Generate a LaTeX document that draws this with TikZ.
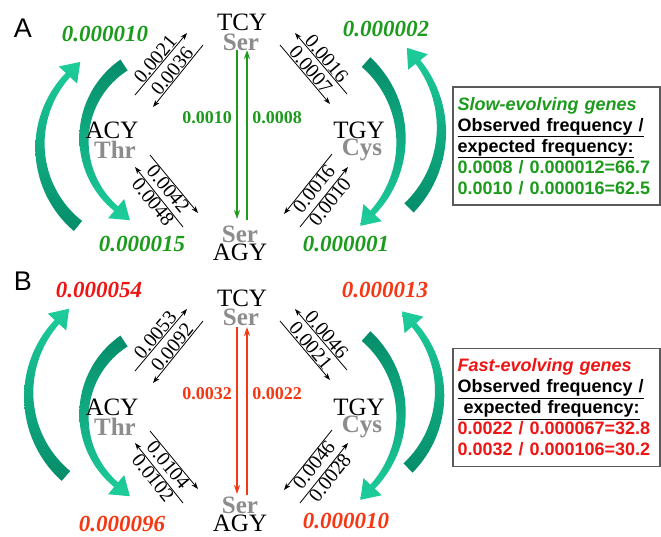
\documentclass[tikz,border=0pt]{standalone}
\usepackage{fontspec}
\setmainfont{Liberation Serif}
\newfontfamily\arialf{Liberation Sans}
\usetikzlibrary{arrows.meta,calc}
\definecolor{gtext}{RGB}{28,155,28}
\definecolor{rtext}{RGB}{240,20,20}
\definecolor{otext}{RGB}{245,55,20}
\definecolor{aagray}{RGB}{140,140,140}
\definecolor{tealD}{RGB}{5,140,105}
\definecolor{tealL}{RGB}{30,205,155}
\definecolor{boxgray}{RGB}{90,90,90}
% #1 cx, #2 cy, #3 R, #4 tail angle, #5 neck angle, #6 +90/-90, #7 shading
\newcommand{\curvarr}[7]{%
  \pgfmathsetmacro{\ca}{#4}\pgfmathsetmacro{\cb}{#5}\pgfmathsetmacro{\cspan}{#5-(#4)}%
  \shade[#7] plot[domain=\ca:\cb, samples=40]
      ({#1+(#3+6.5-3.5*(\x-(\ca))/\cspan)*cos(\x)},{#2+(#3+6.5-3.5*(\x-(\ca))/\cspan)*sin(\x)})
    -- ($(#1,#2)+({\cb}:{#3+12.5})$) -- ($(#1,#2)+({\cb}:{#3})+({\cb+(#6)}:18)$)
    -- ($(#1,#2)+({\cb}:{#3-12.5})$)
    -- plot[domain=\cb:\ca, samples=40]
      ({#1+(#3-6.5+3.5*(\x-(\ca))/\cspan)*cos(\x)},{#2+(#3-6.5+3.5*(\x-(\ca))/\cspan)*sin(\x)})
    -- cycle;}
\tikzset{
 codon/.style={font=\fontsize{25}{25}\selectfont, inner sep=0pt},
 aa/.style={font=\fontsize{25}{25}\selectfont\bfseries, text=aagray, inner sep=0pt},
 freq/.style={font=\fontsize{23}{23}\selectfont\bfseries\itshape, inner sep=0pt},
 rate/.style={font=\fontsize{20}{20}\selectfont, inner sep=0.4pt, sloped},
 vrate/.style={font=\fontsize{18}{18}\selectfont\bfseries, inner sep=0pt},
 darr/.style={line width=0.8pt, -{Stealth[length=7pt,width=5pt]}},
 varr/.style={line width=1.5pt, -{Stealth[length=9pt,width=6pt]}},
 panel/.style={font=\arialf\fontsize{27}{27}\selectfont, inner sep=0pt},
 infobox/.style={draw=boxgray, line width=1.2pt, font=\arialf\bfseries\fontsize{18}{21}\selectfont,
   align=left, text width=198pt, inner xsep=4.5pt, minimum height=118pt},
 tailbot/.style={top color=tealL, bottom color=tealD},
 tailtop/.style={top color=tealD, bottom color=tealL}
}
\begin{document}
\begin{tikzpicture}[x=1pt,y=-1pt]
\useasboundingbox (0,0) rectangle (661,536);
\fill[white] (0,0) rectangle (661,536);

%%%%%%%%%%%%%%%% Panel A
\curvarr{143.6}{145.8}{103.6}{129.3}{223.1}{90}{tailbot}
\curvarr{173.9}{139.8}{89.9}{236.3}{130}{-90}{tailtop}
\curvarr{295.3}{140.6}{105.7}{-48}{43}{90}{tailtop}
\curvarr{331.3}{129.9}{110.1}{45.1}{-38.1}{-90}{tailbot}

\node[panel] (labA) at (23,28) {A};
\node[codon] (tcyA) at (242,22) {TCY};
\node[aa] (serTA) at (241,42) {Ser};
\node[codon] (acyA) at (112,130) {ACY};
\node[aa] (thrA) at (115,150) {Thr};
\node[aa] (serBA) at (240,234) {Ser};
\node[codon] (agyA) at (240,252) {AGY};
\node[codon] (tgyA) at (359,130) {TGY};
\node[aa] (cysA) at (362,150) {Cys};

\node[freq, text=gtext] (fA1) at (105,34) {0.000010};
\node[freq, text=gtext] (fA2) at (142,244) {0.000015};
\node[freq, text=gtext] (fA3) at (386,29) {0.000002};
\node[freq, text=gtext] (fA4) at (346,244) {0.000001};

\coordinate (vAa) at (237,50); \coordinate (vAb) at (237,219);
\coordinate (vAc) at (247,220); \coordinate (vAd) at (247,50);
\draw[varr, gtext] (vAa) -- (vAb);
\draw[varr, gtext] (vAc) -- (vAd);
\node[vrate, text=gtext] (vlA1) at (207,118) {0.0010};
\node[vrate, text=gtext] (vlA2) at (277,118) {0.0008};

\coordinate (ulA1) at (135,95);  \coordinate (ulA2) at (187,33);
\coordinate (ulA3) at (203,45);  \coordinate (ulA4) at (153,107);
\coordinate (urA1) at (347,94);  \coordinate (urA2) at (295,33);
\coordinate (urA3) at (280,45);  \coordinate (urA4) at (330,104);
\coordinate (llA1) at (150,155); \coordinate (llA2) at (198,213);
\coordinate (llA3) at (183,227); \coordinate (llA4) at (135,167);
\coordinate (lrA1) at (332,154); \coordinate (lrA2) at (284,214);
\coordinate (lrA3) at (300,227); \coordinate (lrA4) at (348,167);
\draw[darr] (ulA1) -- node[rate, above] (dA1) {0.0021} (ulA2);
\draw[darr] (ulA3) -- node[rate, above] (dA2) {0.0036} (ulA4);
\draw[darr] (urA1) -- node[rate, above] (dA3) {0.0016} (urA2);
\draw[darr] (urA3) -- node[rate, above] (dA4) {0.0007} (urA4);
\draw[darr] (llA1) -- node[rate, below] (dA5) {0.0042} (llA2);
\draw[darr] (llA3) -- node[rate, below] (dA6) {0.0048} (llA4);
\draw[darr] (lrA1) -- node[rate, below] (dA7) {0.0016} (lrA2);
\draw[darr] (lrA3) -- node[rate, below] (dA8) {0.0010} (lrA4);

\node[infobox] (boxA) at (556.5,146) {%
{\color{gtext}\itshape Slow-evolving genes}\\
\underline{Observed frequency /}\\
\underline{expected frequency:}\\
{\color{gtext}0.0008 / 0.000012=66.7}\\
{\color{gtext}0.0010 / 0.000016=62.5}};

%%%%%%%%%%%%%%%% Panel B
\curvarr{136.2}{394.6}{107.5}{130.8}{222.5}{90}{tailbot}
\curvarr{173.9}{415.8}{89.9}{236.3}{130}{-90}{tailtop}
\curvarr{295.3}{414.6}{105.7}{-48}{43}{90}{tailtop}
\curvarr{335.6}{393.3}{104}{45.9}{-41.1}{-90}{tailbot}

\node[panel] (labB) at (23,281) {B};
\node[codon] (tcyB) at (242,298) {TCY};
\node[aa] (serTB) at (241,317) {Ser};
\node[codon] (acyB) at (112,407) {ACY};
\node[aa] (thrB) at (115,427) {Thr};
\node[aa] (serBB) at (240,505) {Ser};
\node[codon] (agyB) at (240,523) {AGY};
\node[codon] (tgyB) at (359,407) {TGY};
\node[aa] (cysB) at (362,427) {Cys};

\node[freq, text=rtext] (fB1) at (99,290) {0.000054};
\node[freq, text=otext] (fB2) at (122,524) {0.000096};
\node[freq, text=otext] (fB3) at (385,290) {0.000013};
\node[freq, text=otext] (fB4) at (346,521) {0.000010};

\coordinate (vBa) at (237,327); \coordinate (vBb) at (237,494);
\coordinate (vBc) at (247,495); \coordinate (vBd) at (247,327);
\draw[varr, otext] (vBa) -- (vBb);
\draw[varr, otext] (vBc) -- (vBd);
\node[vrate, text=otext] (vlB1) at (207,394) {0.0032};
\node[vrate, text=otext] (vlB2) at (277,394) {0.0022};

\coordinate (ulB1) at (135,371);  \coordinate (ulB2) at (187,309);
\coordinate (ulB3) at (203,321);  \coordinate (ulB4) at (153,383);
\coordinate (urB1) at (347,370);  \coordinate (urB2) at (295,309);
\coordinate (urB3) at (280,321);  \coordinate (urB4) at (330,380);
\coordinate (llB1) at (150,431); \coordinate (llB2) at (198,489);
\coordinate (llB3) at (183,503); \coordinate (llB4) at (135,443);
\coordinate (lrB1) at (332,430); \coordinate (lrB2) at (284,490);
\coordinate (lrB3) at (300,503); \coordinate (lrB4) at (348,443);
\draw[darr] (ulB1) -- node[rate, above] (dB1) {0.0053} (ulB2);
\draw[darr] (ulB3) -- node[rate, above] (dB2) {0.0092} (ulB4);
\draw[darr] (urB1) -- node[rate, above] (dB3) {0.0046} (urB2);
\draw[darr] (urB3) -- node[rate, above] (dB4) {0.0021} (urB4);
\draw[darr] (llB1) -- node[rate, below] (dB5) {0.0104} (llB2);
\draw[darr] (llB3) -- node[rate, below] (dB6) {0.0102} (llB4);
\draw[darr] (lrB1) -- node[rate, below] (dB7) {0.0046} (lrB2);
\draw[darr] (lrB3) -- node[rate, below] (dB8) {0.0028} (lrB4);

\node[infobox] (boxB) at (556.5,407.5) {%
{\color{rtext}\itshape Fast-evolving genes}\\
\underline{Observed frequency /}\\
\underline{\ expected frequency:}\\
{\color{rtext}0.0022 / 0.000067=32.8}\\
{\color{rtext}0.0032 / 0.000106=30.2}};
\end{tikzpicture}
\end{document}
